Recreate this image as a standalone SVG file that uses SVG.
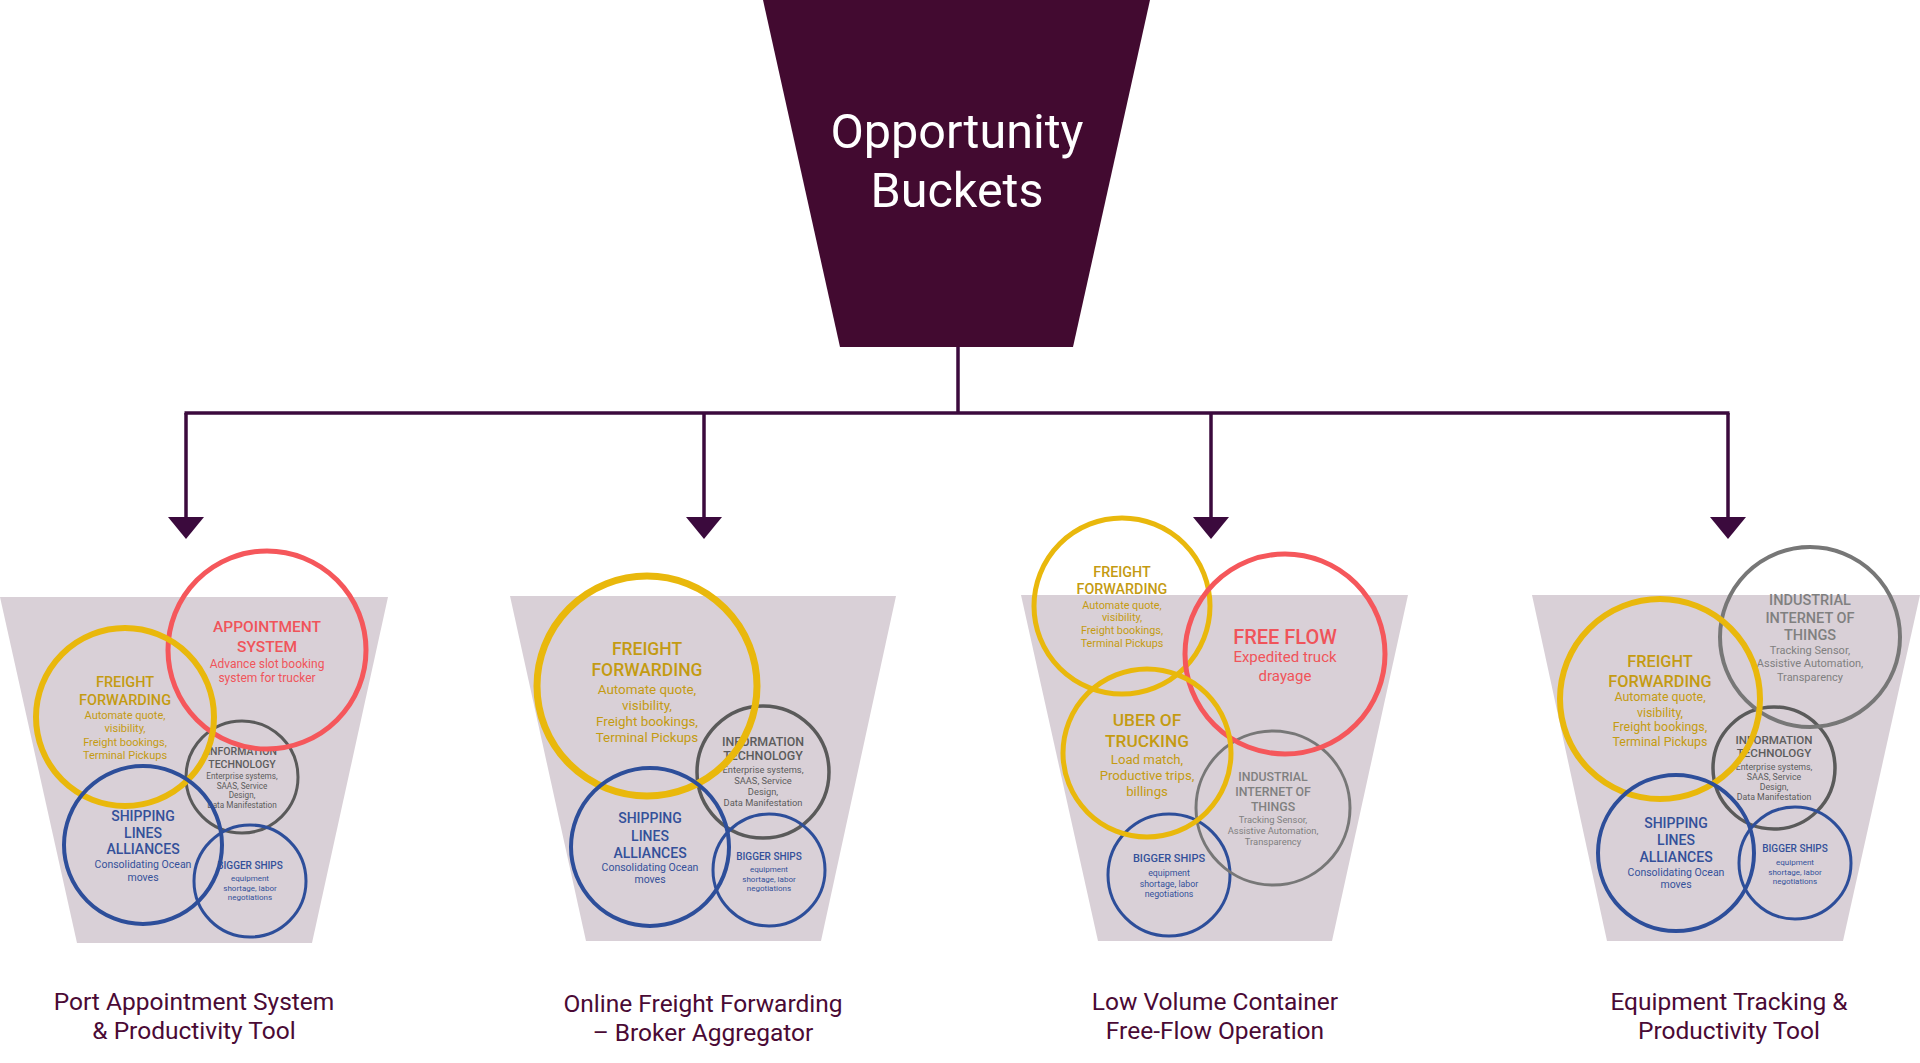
<svg xmlns="http://www.w3.org/2000/svg" width="1920" height="1063" viewBox="0 0 1920 1063">
<defs>
<style>
text{font-family:Roboto,"Liberation Sans",sans-serif;text-anchor:middle}
.bucket{fill:#d9d0d7}
.c{fill:none}
.y{stroke:#e9b80c}
.r{stroke:#f5575b}
.g{stroke:#5a5a5a}
.g2{stroke:#777777}
.b{stroke:#2d4e9a}
.ty{fill:#c49b12}
.tr{fill:#f0545a}
.tg{fill:#5c5c5c}
.tg2{fill:#808080}
.tb{fill:#34509a}
.h{font-weight:500}
.conn{fill:none;stroke:#3b0a3d;stroke-width:3.5}
.lbl{fill:#4a0a35;font-size:24.5px}
</style>
<marker id="arr" viewBox="0 -18 22 36" refX="0" refY="0" markerWidth="22" markerHeight="36" markerUnits="userSpaceOnUse" orient="auto">
<path d="M0,-18 L22,0 L0,18 Z" fill="#3b0a3d"/>
</marker>
</defs>
<rect width="1920" height="1063" fill="#ffffff"/>

<g id="root">
<polygon points="763,0 1150,0 1073,347 840,347" fill="#420a30"/>
<text x="957" y="148" font-size="48.5" fill="#ffffff">Opportunity</text>
<text x="957" y="207" font-size="48.5" fill="#ffffff">Buckets</text>
</g>

<g id="connectors">
<path class="conn" d="M958,347 V413"/>
<path class="conn" d="M184.5,413 H1729.5"/>
<path class="conn" d="M186,413 V517" marker-end="url(#arr)"/>
<path class="conn" d="M704,413 V517" marker-end="url(#arr)"/>
<path class="conn" d="M1211,413 V517" marker-end="url(#arr)"/>
<path class="conn" d="M1728,413 V517" marker-end="url(#arr)"/>
</g>

<!-- Bucket 1 -->
<g id="bucket1">
<polygon class="bucket" points="0,597 388,597 312,943 77,943"/>
<g id="b1-it">
<text class="tg"><tspan class="h" x="242" y="755" font-size="10.5">INFORMATION</tspan><tspan class="h" x="242" y="768" font-size="10.5">TECHNOLOGY</tspan><tspan x="242" y="779" font-size="8.2">Enterprise systems,</tspan><tspan x="242" y="789" font-size="8.2">SAAS, Service</tspan><tspan x="242" y="798" font-size="8.2">Design,</tspan><tspan x="242" y="808" font-size="8.2">Data Manifestation</tspan></text>
<circle class="c g" cx="242" cy="777" r="56" stroke-width="3"/>
</g>
<g id="b1-bigger">
<text class="tb"><tspan class="h" x="250" y="869" font-size="10">BIGGER SHIPS</tspan><tspan x="250" y="881" font-size="8">equipment</tspan><tspan x="250" y="891" font-size="8">shortage, labor</tspan><tspan x="250" y="900" font-size="8">negotiations</tspan></text>
<circle class="c b" cx="250" cy="881" r="56" stroke-width="3"/>
</g>
<g id="b1-appointment">
<text class="tr"><tspan class="h" x="267" y="632" font-size="15.5">APPOINTMENT</tspan><tspan class="h" x="267" y="652" font-size="15.5">SYSTEM</tspan><tspan x="267" y="668" font-size="12">Advance slot booking</tspan><tspan x="267" y="682" font-size="12">system for trucker</tspan></text>
<circle class="c r" cx="267" cy="650" r="99" stroke-width="5"/>
</g>
<g id="b1-freight">
<text class="ty"><tspan class="h" x="125" y="687" font-size="14.5">FREIGHT</tspan><tspan class="h" x="125" y="705" font-size="14.5">FORWARDING</tspan><tspan x="125" y="719" font-size="11">Automate quote,</tspan><tspan x="125" y="732" font-size="11">visibility,</tspan><tspan x="125" y="746" font-size="11">Freight bookings,</tspan><tspan x="125" y="759" font-size="11">Terminal Pickups</tspan></text>
<circle class="c y" cx="125" cy="717" r="89" stroke-width="6"/>
</g>
<g id="b1-shipping">
<text class="tb"><tspan class="h" x="143" y="821" font-size="14">SHIPPING</tspan><tspan class="h" x="143" y="838" font-size="14">LINES</tspan><tspan class="h" x="143" y="854" font-size="14">ALLIANCES</tspan><tspan x="143" y="868" font-size="10.5">Consolidating Ocean</tspan><tspan x="143" y="881" font-size="10.5">moves</tspan></text>
<circle class="c b" cx="143" cy="845" r="79" stroke-width="4"/>
</g>
<text class="lbl"><tspan x="194" y="1010">Port Appointment System</tspan><tspan x="194" y="1039">&amp; Productivity Tool</tspan></text>
</g>

<!-- Bucket 2 -->
<g id="bucket2">
<polygon class="bucket" points="510,596 896,596 821,941 586,941"/>
<g id="b2-it">
<text class="tg"><tspan class="h" x="763" y="746" font-size="12.4">INFORMATION</tspan><tspan class="h" x="763" y="760" font-size="12.4">TECHNOLOGY</tspan><tspan x="763" y="773" font-size="9.3">Enterprise systems,</tspan><tspan x="763" y="784" font-size="9.3">SAAS, Service</tspan><tspan x="763" y="795" font-size="9.3">Design,</tspan><tspan x="763" y="806" font-size="9.3">Data Manifestation</tspan></text>
<circle class="c g" cx="763" cy="772" r="66" stroke-width="3.5"/>
</g>
<g id="b2-bigger">
<text class="tb"><tspan class="h" x="769" y="860" font-size="10">BIGGER SHIPS</tspan><tspan x="769" y="872" font-size="8">equipment</tspan><tspan x="769" y="882" font-size="8">shortage, labor</tspan><tspan x="769" y="891" font-size="8">negotiations</tspan></text>
<circle class="c b" cx="769" cy="870" r="56" stroke-width="3"/>
</g>
<g id="b2-freight">
<text class="ty"><tspan class="h" x="647" y="655" font-size="17.5">FREIGHT</tspan><tspan class="h" x="647" y="676" font-size="17.5">FORWARDING</tspan><tspan x="647" y="694" font-size="13.4">Automate quote,</tspan><tspan x="647" y="710" font-size="13.4">visibility,</tspan><tspan x="647" y="726" font-size="13.4">Freight bookings,</tspan><tspan x="647" y="742" font-size="13.4">Terminal Pickups</tspan></text>
<circle class="c y" cx="647" cy="686" r="110" stroke-width="7"/>
</g>
<g id="b2-shipping">
<text class="tb"><tspan class="h" x="650" y="823" font-size="14">SHIPPING</tspan><tspan class="h" x="650" y="841" font-size="14">LINES</tspan><tspan class="h" x="650" y="858" font-size="14">ALLIANCES</tspan><tspan x="650" y="871" font-size="10.5">Consolidating Ocean</tspan><tspan x="650" y="883" font-size="10.5">moves</tspan></text>
<circle class="c b" cx="650" cy="847" r="79" stroke-width="4"/>
</g>
<text class="lbl"><tspan x="703" y="1012">Online Freight Forwarding</tspan><tspan x="703" y="1041">– Broker Aggregator</tspan></text>
</g>

<!-- Bucket 3 -->
<g id="bucket3">
<polygon class="bucket" points="1021,595 1408,595 1332,941 1098,941"/>
<g id="b3-bigger">
<text class="tb"><tspan class="h" x="1169" y="862" font-size="11">BIGGER SHIPS</tspan><tspan x="1169" y="876" font-size="8.8">equipment</tspan><tspan x="1169" y="887" font-size="8.8">shortage, labor</tspan><tspan x="1169" y="897" font-size="8.8">negotiations</tspan></text>
<circle class="c b" cx="1169" cy="875" r="61" stroke-width="3"/>
</g>
<g id="b3-iiot">
<text class="tg2"><tspan class="h" x="1273" y="781" font-size="12.3">INDUSTRIAL</tspan><tspan class="h" x="1273" y="796" font-size="12.3">INTERNET OF</tspan><tspan class="h" x="1273" y="811" font-size="12.3">THINGS</tspan><tspan x="1273" y="823" font-size="9.4">Tracking Sensor,</tspan><tspan x="1273" y="834" font-size="9.4">Assistive Automation,</tspan><tspan x="1273" y="845" font-size="9.4">Transparency</tspan></text>
<circle class="c g2" cx="1273" cy="808" r="77" stroke-width="3"/>
</g>
<g id="b3-freight">
<text class="ty"><tspan class="h" x="1122" y="577" font-size="14.3">FREIGHT</tspan><tspan class="h" x="1122" y="594" font-size="14.3">FORWARDING</tspan><tspan x="1122" y="609" font-size="10.8">Automate quote,</tspan><tspan x="1122" y="621" font-size="10.8">visibility,</tspan><tspan x="1122" y="634" font-size="10.8">Freight bookings,</tspan><tspan x="1122" y="647" font-size="10.8">Terminal Pickups</tspan></text>
<circle class="c y" cx="1122" cy="606" r="88" stroke-width="5"/>
</g>
<g id="b3-freeflow">
<text class="tr"><tspan class="h" x="1285" y="644" font-size="20">FREE FLOW</tspan><tspan x="1285" y="662" font-size="15">Expedited truck</tspan><tspan x="1285" y="681" font-size="15">drayage</tspan></text>
<circle class="c r" cx="1285" cy="654" r="100" stroke-width="5"/>
</g>
<g id="b3-uber">
<text class="ty"><tspan class="h" x="1147" y="726" font-size="17.3">UBER OF</tspan><tspan class="h" x="1147" y="747" font-size="17.3">TRUCKING</tspan><tspan x="1147" y="764" font-size="13.2">Load match,</tspan><tspan x="1147" y="780" font-size="13.2">Productive trips,</tspan><tspan x="1147" y="796" font-size="13.2">billings</tspan></text>
<circle class="c y" cx="1147" cy="753" r="84" stroke-width="5"/>
</g>
<text class="lbl"><tspan x="1215" y="1010">Low Volume Container</tspan><tspan x="1215" y="1039">Free-Flow Operation</tspan></text>
</g>

<!-- Bucket 4 -->
<g id="bucket4">
<polygon class="bucket" points="1532,595 1920,595 1843,941 1607,941"/>
<g id="b4-it">
<text class="tg"><tspan class="h" x="1774" y="744" font-size="11.6">INFORMATION</tspan><tspan class="h" x="1774" y="757" font-size="11.6">TECHNOLOGY</tspan><tspan x="1774" y="770" font-size="8.8">Enterprise systems,</tspan><tspan x="1774" y="780" font-size="8.8">SAAS, Service</tspan><tspan x="1774" y="790" font-size="8.8">Design,</tspan><tspan x="1774" y="800" font-size="8.8">Data Manifestation</tspan></text>
<circle class="c g" cx="1774" cy="768" r="61" stroke-width="3.5"/>
</g>
<g id="b4-bigger">
<text class="tb"><tspan class="h" x="1795" y="852" font-size="10">BIGGER SHIPS</tspan><tspan x="1795" y="865" font-size="8">equipment</tspan><tspan x="1795" y="875" font-size="8">shortage, labor</tspan><tspan x="1795" y="884" font-size="8">negotiations</tspan></text>
<circle class="c b" cx="1795" cy="863" r="56" stroke-width="3"/>
</g>
<g id="b4-iiot">
<text class="tg2"><tspan class="h" x="1810" y="605" font-size="14.5">INDUSTRIAL</tspan><tspan class="h" x="1810" y="623" font-size="14.5">INTERNET OF</tspan><tspan class="h" x="1810" y="640" font-size="14.5">THINGS</tspan><tspan x="1810" y="654" font-size="11">Tracking Sensor,</tspan><tspan x="1810" y="667" font-size="11">Assistive Automation,</tspan><tspan x="1810" y="681" font-size="11">Transparency</tspan></text>
<circle class="c g2" cx="1810" cy="637" r="90" stroke-width="4"/>
</g>
<g id="b4-freight">
<text class="ty"><tspan class="h" x="1660" y="667" font-size="16.3">FREIGHT</tspan><tspan class="h" x="1660" y="687" font-size="16.3">FORWARDING</tspan><tspan x="1660" y="701" font-size="12.4">Automate quote,</tspan><tspan x="1660" y="717" font-size="12.4">visibility,</tspan><tspan x="1660" y="731" font-size="12.4">Freight bookings,</tspan><tspan x="1660" y="746" font-size="12.4">Terminal Pickups</tspan></text>
<circle class="c y" cx="1660" cy="699" r="100" stroke-width="6"/>
</g>
<g id="b4-shipping">
<text class="tb"><tspan class="h" x="1676" y="828" font-size="14">SHIPPING</tspan><tspan class="h" x="1676" y="845" font-size="14">LINES</tspan><tspan class="h" x="1676" y="862" font-size="14">ALLIANCES</tspan><tspan x="1676" y="876" font-size="10.5">Consolidating Ocean</tspan><tspan x="1676" y="888" font-size="10.5">moves</tspan></text>
<circle class="c b" cx="1676" cy="853" r="78" stroke-width="4"/>
</g>
<text class="lbl"><tspan x="1729" y="1010">Equipment Tracking &amp;</tspan><tspan x="1729" y="1039">Productivity Tool</tspan></text>
</g>
</svg>
